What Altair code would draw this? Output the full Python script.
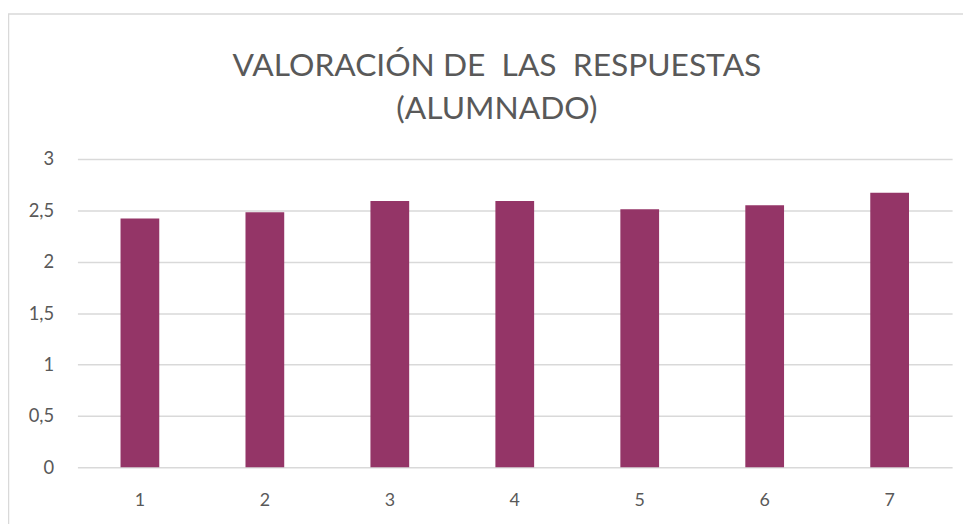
import altair as alt
import pandas as pd

categories = ["1", "2", "3", "4", "5", "6", "7"]
values = [2.42, 2.48, 2.59, 2.59, 2.51, 2.55, 2.67]
title_lines = ["VALORACIÓN DE\u00a0 LAS\u00a0 RESPUESTAS", "(ALUMNADO)"]

df = pd.DataFrame({"cat": categories, "val": values})

GREY = "#595959"
FONT = "Lato"

bars = alt.Chart(df).mark_bar(color="#943567").encode(
    x=alt.X("cat:N", sort=categories, title=None,
            scale=alt.Scale(paddingInner=0.69, paddingOuter=0.345),
            axis=alt.Axis(labelAngle=0, labelFontSize=18, labelColor=GREY, labelFont=FONT,
                          ticks=False, domain=False, labelPadding=24, grid=False)),
    y=alt.Y("val:Q", title=None,
            scale=alt.Scale(domain=[0, 3], nice=False),
            axis=alt.Axis(values=[0, 0.5, 1, 1.5, 2, 2.5, 3], labelFontSize=18.5, labelColor=GREY,
                          labelFont=FONT, ticks=False, domain=False, labelPadding=24,
                          gridColor="#d9d9d9", gridWidth=1.5,
                          labelExpr="replace(format(datum.value, ''), '.', ',')")),
)

border_df = pd.DataFrame({"k": [0]})
left_border = alt.Chart(border_df).mark_rule(color="#d9d9d9", strokeWidth=1.5, clip=False).encode(
    x=alt.value(-69.5), y=alt.value(-146), y2=alt.value(370))
top_border = alt.Chart(border_df).mark_rule(color="#d9d9d9", strokeWidth=1.5, clip=False).encode(
    x=alt.value(-70), x2=alt.value(893), y=alt.value(-146))

chart = alt.layer(left_border, top_border, bars).properties(
    width=882, height=311,
    autosize=alt.AutoSizeParams(type="none"),
    padding={"left": 70, "top": 150, "right": 14, "bottom": 55},
    title=alt.TitleParams(text=title_lines, anchor="middle", fontSize=32, font=FONT,
                          fontWeight="normal", color=GREY, lineHeight=44, offset=-114, dx=-18),
).configure(background="white", view=alt.ViewConfig(stroke=None))

chart.save("out.html", embed_options={"renderer": "svg", "actions": False})
